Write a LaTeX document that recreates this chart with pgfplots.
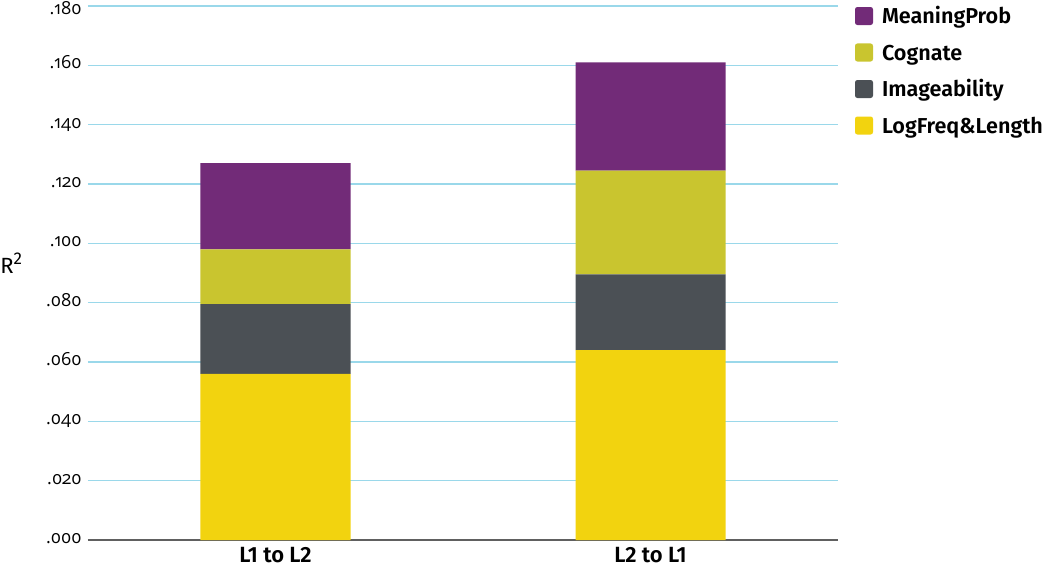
\documentclass[border=0pt]{standalone}
\usepackage{pgfplots}
\pgfplotsset{compat=1.18}
\usepackage{fontspec}
\setmainfont{Fira Sans}[BoldFont={Fira Sans SemiBold}]
\newfontfamily\onum{Open Sans}[Numbers=OldStyle]
\definecolor{cMean}{HTML}{722B78}
\definecolor{cCog}{HTML}{C9C52F}
\definecolor{cImg}{HTML}{4B5055}
\definecolor{cLog}{HTML}{F2D30F}
\definecolor{cGrid}{HTML}{9AD8EA}
\definecolor{cAxis}{HTML}{606060}
\begin{document}
\begin{tikzpicture}
\begin{axis}[
  width=375pt, height=267pt, scale only axis,
  ybar stacked, bar width=75pt,
  xmin=-0.5, xmax=1.5, ymin=0, ymax=0.18,
  xtick={0,1}, xticklabels={L1 to L2, L2 to L1},
  ytick={0,0.02,0.04,0.06,0.08,0.1,0.12,0.14,0.16,0.18},
  yticklabels={.000,.020,.040,.060,.080,.100,.120,.140,.160,{\raisebox{-2.5pt}{.180}}},
  ymajorgrids, major grid style={color=cGrid, line width=0.6pt},
  axis x line=bottom, axis y line=left,
  y axis line style={draw=none},
  x axis line style={-, color=cAxis, line width=0.6pt},
  major tick length=0pt, tick style={draw=none},
  yticklabel style={font=\onum\fontsize{9}{10}\selectfont, anchor=base east, inner sep=0pt, xshift=-3pt, yshift=-1.8pt},
  xticklabel style={font=\bfseries\fontsize{11}{12}\selectfont, anchor=base, inner sep=0pt, yshift=-11.25pt},
  legend style={at={(rel axis cs:1,1)}, anchor=north west, xshift=8.5pt, yshift=-0.5pt,
    draw=none, fill=none, inner sep=0pt, outer sep=0pt, row sep=9.25pt, column sep=0pt,
    font=\bfseries\fontsize{10.8}{12}\selectfont,
    nodes={inner sep=0pt, text height=7.5pt, text depth=0pt},
    /tikz/every odd column/.append style={column sep=4.5pt}},
  legend cell align=left,
  reverse legend,
]
\addplot[fill=cLog, draw=none, legend image code/.code={\fill[cLog, rounded corners=1.2pt] (0pt,-4.5pt) rectangle (9pt,4.5pt);}]
  coordinates {(0,0.056) (1,0.064)};
\addlegendentry{LogFreq\&Length}
\addplot[fill=cImg, draw=none, legend image code/.code={\fill[cImg, rounded corners=1.2pt] (0pt,-4.5pt) rectangle (9pt,4.5pt);}]
  coordinates {(0,0.0235) (1,0.0255)};
\addlegendentry{Imageability}
\addplot[fill=cCog, draw=none, legend image code/.code={\fill[cCog, rounded corners=1.2pt] (0pt,-4.5pt) rectangle (9pt,4.5pt);}]
  coordinates {(0,0.0185) (1,0.035)};
\addlegendentry{Cognate}
\addplot[fill=cMean, draw=none, legend image code/.code={\fill[cMean, rounded corners=1.2pt] (0pt,-4.5pt) rectangle (9pt,4.5pt);}]
  coordinates {(0,0.029) (1,0.0365)};
\addlegendentry{MeaningProb}
\end{axis}
\node[anchor=base west, inner sep=0pt, font=\fontsize{11}{12}\selectfont] at (-44pt,133pt) {R\raisebox{0.42em}{\fontsize{8.5}{9}\selectfont 2}};
\pgfresetboundingbox
\path (-44pt,-14pt) rectangle (481pt,270pt);
\end{tikzpicture}
\end{document}
